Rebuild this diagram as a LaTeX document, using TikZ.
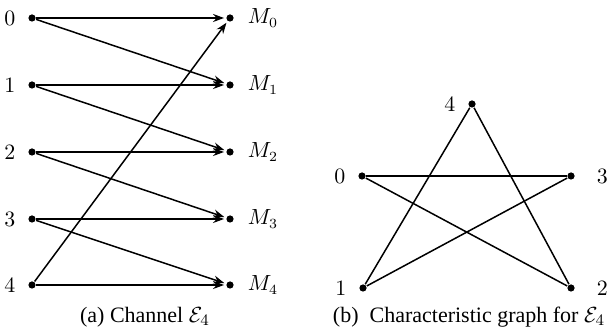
\documentclass[tikz,border=0pt]{standalone}
\usepackage{amsmath, amssymb}
\usepackage{fontspec}
\newfontfamily\capfont{Liberation Serif}
\usetikzlibrary{arrows.meta, positioning}

\begin{document}
\begin{tikzpicture}[x=0.5pt, y=-0.5pt, line width=0.75pt,
    dot/.style={circle, fill=black, inner sep=0pt, minimum size=3.6pt},
    chan/.style={-{Stealth[length=5.5pt, width=4pt]}, shorten >=0.8pt},
    capt/.style={font=\capfont\fontsize{11}{13}\selectfont},
    every label/.style={font=\fontsize{10.5}{12}\selectfont}]
        \useasboundingbox (0,0) rectangle (610,330);

        % Inputs of the channel
        \node[dot, label={[label distance=2.5pt]left:$0$}] (in0) at (32, 18) {};
        \node[dot, label={[label distance=2.5pt]left:$1$}] (in1) at (32, 85) {};
        \node[dot, label={[label distance=2.5pt]left:$2$}] (in2) at (32, 152) {};
        \node[dot, label={[label distance=2.5pt]left:$3$}] (in3) at (32, 219) {};
        \node[dot, label={[label distance=2.5pt]left:$4$}] (in4) at (32, 285) {};

        % Outputs of the channel
        \node[dot, label={[label distance=3pt]right:$M_0$}] (m0) at (230, 18) {};
        \node[dot, label={[label distance=3pt]right:$M_1$}] (m1) at (230, 85) {};
        \node[dot, label={[label distance=3pt]right:$M_2$}] (m2) at (230, 152) {};
        \node[dot, label={[label distance=3pt]right:$M_3$}] (m3) at (230, 219) {};
        \node[dot, label={[label distance=3pt]right:$M_4$}] (m4) at (230, 285) {};

        % Transitions
        \draw[chan] (in0) -- (m0); \draw[chan] (in0) -- (m1);
        \draw[chan] (in1) -- (m1); \draw[chan] (in1) -- (m2);
        \draw[chan] (in2) -- (m2); \draw[chan] (in2) -- (m3);
        \draw[chan] (in3) -- (m3); \draw[chan] (in3) -- (m4);
        \draw[chan] (in4) -- (m4); \draw[chan] (in4) -- (m0);

        \node[capt] (capa) at (145, 317) {(a) Channel $\mathcal{E}_4$};

        % Characteristic graph (pentagram)
        \node[dot, label={[label distance=2.5pt]left:$4$}] (v4) at (472, 104) {};
        \node[dot, label={[label distance=2.5pt]left:$0$}] (v0) at (362, 176) {};
        \node[dot, label={[label distance=7pt]right:$3$}] (v3) at (571, 176) {};
        \node[dot, label={[label distance=2.5pt]left:$1$}] (v1) at (363, 288) {};
        \node[dot, label={[label distance=7pt]right:$2$}] (v2) at (571, 288) {};

        \draw (v0) -- (v3); \draw (v0) -- (v2);
        \draw (v4) -- (v1); \draw (v4) -- (v2);
        \draw (v1) -- (v3);

        \node[capt] (capb) at (469, 317) {(b)\ \ Characteristic graph for $\mathcal{E}_4$};
    \end{tikzpicture}
\end{document}
